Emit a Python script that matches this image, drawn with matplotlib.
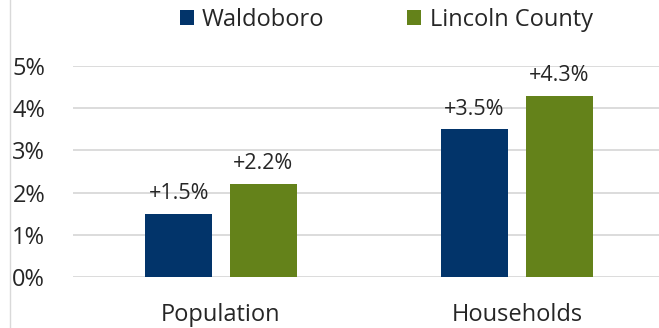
import matplotlib
matplotlib.use("Agg")
import matplotlib.pyplot as plt
from matplotlib.lines import Line2D
from matplotlib.patches import Patch
from matplotlib.ticker import FuncFormatter
import numpy as np

categories = ["Population", "Households"]
series_names = ["Waldoboro", "Lincoln County"]
waldoboro = [1.5, 3.5]
lincoln = [2.2, 4.3]
y_ticks = [0, 1, 2, 3, 4, 5]

colors = ["#02346a", "#64821a"]
text_color = "#262626"
grid_color = "#d9d9d9"

plt.rcParams["font.family"] = ["Open Sans", "DejaVu Sans"]

W, H = 659, 328
fig = plt.figure(figsize=(W / 100, H / 100), dpi=100)
ax = fig.add_axes([73 / W, 1 - 277 / H, (659 - 73) / W, (277 - 66) / H])

x = np.arange(len(categories))
bar_w = 0.226
offset = 0.143
for vals, col, off in ((waldoboro, colors[0], -offset), (lincoln, colors[1], offset)):
    bars = ax.bar(x + off, vals, width=bar_w, color=col, zorder=3)
    for b, v in zip(bars, vals):
        ax.annotate(f"+{v:.1f}%", (b.get_x() + b.get_width() / 2, v),
                    xytext=(0, 7), textcoords="offset points",
                    ha="center", va="bottom", fontsize=15.5,
                    color=text_color, annotation_clip=False)

ax.set_xlim(-0.5, 1.48)
ax.set_ylim(0, 5)
ax.set_yticks(y_ticks)
ax.yaxis.set_major_formatter(FuncFormatter(lambda v, p: f"{v:.0f}%"))
ax.set_xticks(x)
ax.set_xticklabels(categories)
ax.tick_params(axis="y", length=0, pad=20, labelsize=17, labelcolor=text_color)
ax.tick_params(axis="x", length=0, pad=19, labelsize=17, labelcolor=text_color)
ax.grid(axis="y", color=grid_color, linewidth=1.3, zorder=0)
ax.set_axisbelow(True)
for s in ax.spines.values():
    s.set_visible(False)

handles = [Patch(facecolor=c, edgecolor="none") for c in colors]
fig.legend(handles, series_names, loc="center", bbox_to_anchor=(386 / W, 1 - 20 / H),
           ncol=2, frameon=False, fontsize=17, labelcolor=text_color,
           handlelength=0.6, handleheight=0.6, handletextpad=0.35,
           columnspacing=3.5)

fig.add_artist(Line2D([10 / W, 10 / W], [0, 1], transform=fig.transFigure,
                      color=grid_color, linewidth=1.0))

fig.savefig("out.png", dpi=100)
